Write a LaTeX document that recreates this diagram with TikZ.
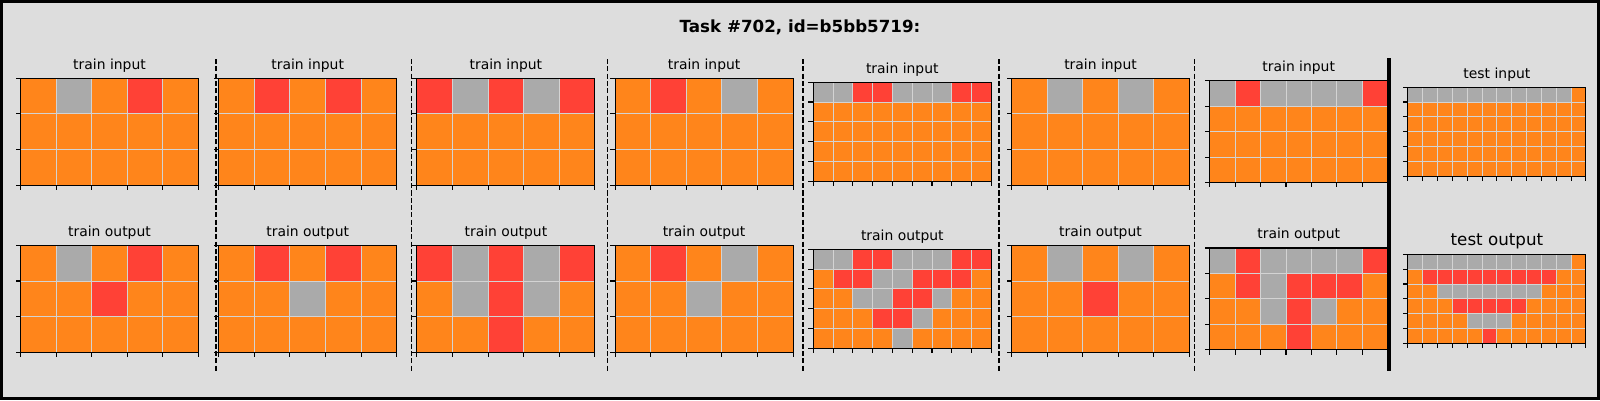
\documentclass[tikz,border=0pt]{standalone}
\usepackage{fontspec}
\setmainfont{DejaVu Sans}
\definecolor{arcO}{HTML}{FF851B}
\definecolor{arcG}{HTML}{AAAAAA}
\definecolor{arcR}{HTML}{FF4136}
\definecolor{bgc}{HTML}{DDDDDD}
\definecolor{gline}{RGB}{211,211,211}
\tikzset{
  gridline/.style={draw=gline,line width=0.9pt},
  frameline/.style={draw=black,line width=1.1pt},
  tickline/.style={draw=black,line width=1.1pt},
  sepline/.style={draw=black,line width=1.4pt,dash pattern=on 5.1pt off 2.2pt},
  smalltitle/.style={anchor=base,inner sep=0pt,font=\fontsize{13.9}{16}\selectfont},
  largetitle/.style={anchor=base,inner sep=0pt,font=\fontsize{16.7}{19}\selectfont},
  maintitle/.style={anchor=base,inner sep=0pt,font=\fontsize{16.7}{19}\selectfont\bfseries},
}
% cx, cy, ncols, nrows, title, title style, node name, data
\newcommand\arcpanel[8]{%
  \pgfmathsetmacro\pcs{178/#3}%
  \pgfmathsetmacro\pL{#1-89}%
  \pgfmathsetmacro\pH{#4*\pcs}%
  \pgfmathsetmacro\pT{#2-\pH/2}%
  \foreach \row [count=\r from 0] in {#8} {
    \foreach \c [count=\k from 0] in \row {
      \fill[arc\c] (\pL+\k*\pcs, \pT+\r*\pcs) rectangle ++(\pcs,\pcs);
    }
  }
  \foreach \i in {0,...,#3} \draw[gridline] (\pL+\i*\pcs,\pT) -- ++(0,\pH);
  \foreach \j in {0,...,#4} \draw[gridline] (\pL,\pT+\j*\pcs) -- ++(178,0);
  \draw[frameline] (\pL,\pT) rectangle ++(178,\pH);
  \foreach \i in {0,...,#3} \draw[tickline] (\pL+\i*\pcs,\pT+\pH) -- ++(0,4.9);
  \foreach \j in {0,...,#4} \draw[tickline] (\pL,\pT+\j*\pcs) -- ++(-4.9,0);
  \node[#6] (#7) at (#1,\pT-9) {#5};
}
\begin{document}
\begin{tikzpicture}[x=1pt,y=-1pt]
\useasboundingbox (0,0) rectangle (1600,400);
\fill[bgc] (0,0) rectangle (1600,400);
\draw[line width=3.3pt] (1.65,1.65) rectangle (1598.35,398.35);
\node[maintitle] (title) at (800,32.3) {Task \#702, id=b5bb5719:};

% panel 1
\arcpanel{109.5}{131.7}{5}{3}{train input}{smalltitle}{in1}{{O,G,O,R,O},{O,O,O,O,O},{O,O,O,O,O}}
\arcpanel{109.5}{298.8}{5}{3}{train output}{smalltitle}{out1}{{O,G,O,R,O},{O,O,R,O,O},{O,O,O,O,O}}
% panel 2
\arcpanel{307.7}{131.7}{5}{3}{train input}{smalltitle}{in2}{{O,R,O,R,O},{O,O,O,O,O},{O,O,O,O,O}}
\arcpanel{307.7}{298.8}{5}{3}{train output}{smalltitle}{out2}{{O,R,O,R,O},{O,O,G,O,O},{O,O,O,O,O}}
% panel 3
\arcpanel{505.9}{131.7}{5}{3}{train input}{smalltitle}{in3}{{R,G,R,G,R},{O,O,O,O,O},{O,O,O,O,O}}
\arcpanel{505.9}{298.8}{5}{3}{train output}{smalltitle}{out3}{{R,G,R,G,R},{O,G,R,G,O},{O,O,R,O,O}}
% panel 4
\arcpanel{704.1}{131.7}{5}{3}{train input}{smalltitle}{in4}{{O,R,O,G,O},{O,O,O,O,O},{O,O,O,O,O}}
\arcpanel{704.1}{298.8}{5}{3}{train output}{smalltitle}{out4}{{O,R,O,G,O},{O,O,G,O,O},{O,O,O,O,O}}
% panel 5
\arcpanel{902.3}{131.7}{9}{5}{train input}{smalltitle}{in5}{{G,G,R,R,G,G,G,R,R},{O,O,O,O,O,O,O,O,O},{O,O,O,O,O,O,O,O,O},{O,O,O,O,O,O,O,O,O},{O,O,O,O,O,O,O,O,O}}
\arcpanel{902.3}{298.8}{9}{5}{train output}{smalltitle}{out5}{{G,G,R,R,G,G,G,R,R},{O,R,R,G,G,R,R,R,O},{O,O,G,G,R,R,G,O,O},{O,O,O,R,R,G,O,O,O},{O,O,O,O,G,O,O,O,O}}
% panel 6
\arcpanel{1100.5}{131.7}{5}{3}{train input}{smalltitle}{in6}{{O,G,O,G,O},{O,O,O,O,O},{O,O,O,O,O}}
\arcpanel{1100.5}{298.8}{5}{3}{train output}{smalltitle}{out6}{{O,G,O,G,O},{O,O,R,O,O},{O,O,O,O,O}}
% panel 7
\arcpanel{1298.7}{131.7}{7}{4}{train input}{smalltitle}{in7}{{G,R,G,G,G,G,R},{O,O,O,O,O,O,O},{O,O,O,O,O,O,O},{O,O,O,O,O,O,O}}
\arcpanel{1298.7}{298.8}{7}{4}{train output}{smalltitle}{out7}{{G,R,G,G,G,G,R},{O,R,G,R,R,R,O},{O,O,G,R,G,O,O},{O,O,O,R,O,O,O}}
% test
\arcpanel{1496.9}{131.7}{12}{6}{test input}{smalltitle}{tin}{{G,G,G,G,G,G,G,G,G,G,G,O},{O,O,O,O,O,O,O,O,O,O,O,O},{O,O,O,O,O,O,O,O,O,O,O,O},{O,O,O,O,O,O,O,O,O,O,O,O},{O,O,O,O,O,O,O,O,O,O,O,O},{O,O,O,O,O,O,O,O,O,O,O,O}}
\arcpanel{1496.9}{298.8}{12}{6}{test output}{largetitle}{tout}{{G,G,G,G,G,G,G,G,G,G,G,O},{O,R,R,R,R,R,R,R,R,R,O,O},{O,O,G,G,G,G,G,G,G,O,O,O},{O,O,O,R,R,R,R,R,O,O,O,O},{O,O,O,O,G,G,G,O,O,O,O,O},{O,O,O,O,O,R,O,O,O,O,O,O}}

% separators
\foreach \x in {216,411.7,607.4,803.1,998.8,1194.5}
  \draw[sepline] (\x,59) -- (\x,371);
\draw[line width=4.3pt] (1388.8,58) -- (1388.8,371);
\end{tikzpicture}
\end{document}
